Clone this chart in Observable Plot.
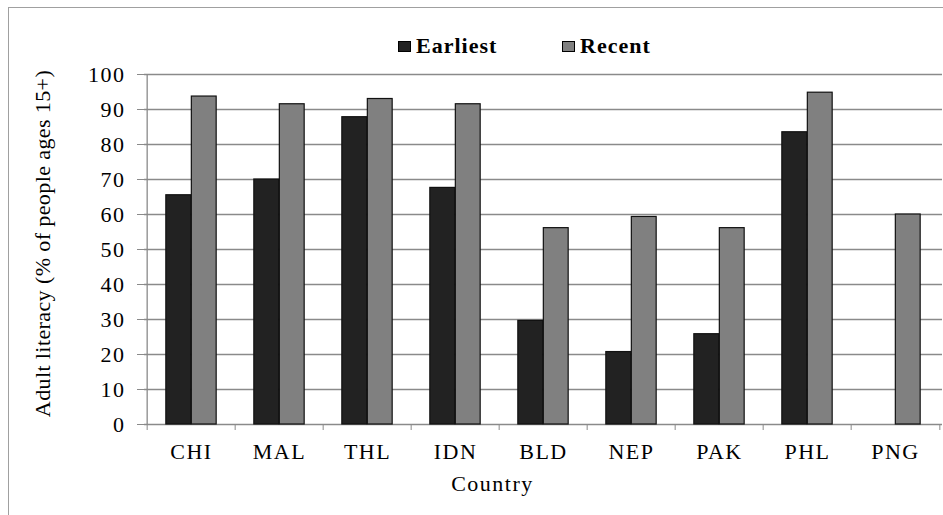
<!DOCTYPE html>
<html>
<head>
<meta charset="utf-8">
<script src="https://cdn.jsdelivr.net/npm/d3@7"></script>
<script src="https://cdn.jsdelivr.net/npm/@observablehq/plot@0.6"></script>
<style>
  html, body { margin: 0; padding: 0; background: #fff; }
  #wrap { position: relative; width: 943px; height: 515px; overflow: hidden; }
  #frame { position: absolute; left: 8px; top: 7px; width: 1000px; height: 1000px;
           border-left: 1.5px solid #a0a0a0; border-top: 1.5px solid #a0a0a0; box-sizing: border-box; }
  #legend { position: absolute; top: 34px; left: 0; width: 943px; height: 24px;
            font-family: "Liberation Serif", "Times New Roman", Times, serif; font-weight: bold; font-size: 22px; letter-spacing: 1px; color: #000; }
  .item { position: absolute; top: 0; display: flex; align-items: center; height: 24px; }
  .sw { width: 13px; height: 11px; border: 1.2px solid #000; margin-right: 5px; box-sizing: border-box; }
</style>
</head>
<body>
<div id="wrap">
  <div id="frame"></div>
  <div id="chart"></div>
  <div id="legend"></div>
</div>
<script>
const countries = ["CHI", "MAL", "THL", "IDN", "BLD", "NEP", "PAK", "PHL", "PNG"];
const earliest = [65.5, 70, 87.8, 67.6, 29.6, 20.7, 25.8, 83.5, null];
const recent = [93.7, 91.5, 93, 91.5, 56.1, 59.3, 56.1, 94.8, 60];
const seriesNames = ["Earliest", "Recent"];
const seriesColors = ["#222222", "#808080"];
const yTicks = [0, 10, 20, 30, 40, 50, 60, 70, 80, 90, 100];
const yLabel = "Adult literacy (% of people ages 15+)";
const xLabel = "Country";

const W = 943, H = 515, mL = 144, mR = 1, mT = 74, mB = 91;
const step = (W - mL - mR) / countries.length;
const barW = 25.5;
const half = step / 2;

const rowsE = countries.map((c, i) => ({country: c, value: earliest[i]})).filter(d => d.value != null);
const rowsR = countries.map((c, i) => ({country: c, value: recent[i]})).filter(d => d.value != null);

const chart = Plot.plot({
  width: W, height: H,
  marginLeft: mL, marginRight: mR, marginTop: mT, marginBottom: mB,
  style: {fontFamily: "'Liberation Serif', 'Times New Roman', Times, serif", fontSize: "22px", letterSpacing: "1.5px", color: "#000", background: "transparent"},
  x: {type: "band", domain: countries, padding: 0, axis: null},
  y: {domain: [0, 100], axis: null},
  marks: [
    Plot.ruleY(yTicks, {stroke: "#8a8a8a", strokeWidth: 1.3}),
    Plot.ruleX([countries[0]], {dx: -half, y1: 0, y2: 100, stroke: "#8a8a8a", strokeWidth: 1.3}),
    Plot.axisY({ticks: yTicks, tickSize: 7, tickPadding: 12, stroke: "#8a8a8a", fill: "#000", label: null}),
    Plot.axisX({ticks: countries, tickSize: 0, tickPadding: 19, fill: "#000", label: null}),
    Plot.axisX({ticks: countries, dx: -half, tickSize: 6, tickFormat: () => "", stroke: "#8a8a8a", label: null}),
    Plot.axisX({ticks: [countries[countries.length - 1]], dx: half, tickSize: 6, tickFormat: () => "", stroke: "#8a8a8a", label: null}),
    Plot.barY(rowsE, {x: "country", y: "value", fill: seriesColors[0], stroke: "#111", strokeWidth: 1.2,
      insetLeft: half - barW, insetRight: half}),
    Plot.barY(rowsR, {x: "country", y: "value", fill: seriesColors[1], stroke: "#111", strokeWidth: 1.2,
      insetLeft: half, insetRight: half - barW}),
    Plot.text([yLabel], {text: d => d, frameAnchor: "left", textAnchor: "middle", lineAnchor: "middle", rotate: -90, dx: -102, dy: -6, fill: "#000"}),
    Plot.text([xLabel], {text: d => d, frameAnchor: "bottom", textAnchor: "middle", dx: -51, dy: 66, fill: "#000"})
  ]
});
chart.querySelectorAll("text").forEach(t => {
  if (t.textContent === yLabel) t.style.letterSpacing = "0.4px";
});
document.getElementById("chart").appendChild(chart);

const legend = document.getElementById("legend");
const legendX = [398, 562];
seriesNames.forEach((name, i) => {
  const item = document.createElement("div");
  item.className = "item";
  item.style.left = legendX[i] + "px";
  const sw = document.createElement("div");
  sw.className = "sw";
  sw.style.background = seriesColors[i];
  const t = document.createElement("span");
  t.textContent = name;
  item.appendChild(sw);
  item.appendChild(t);
  legend.appendChild(item);
});
</script>
</body>
</html>
